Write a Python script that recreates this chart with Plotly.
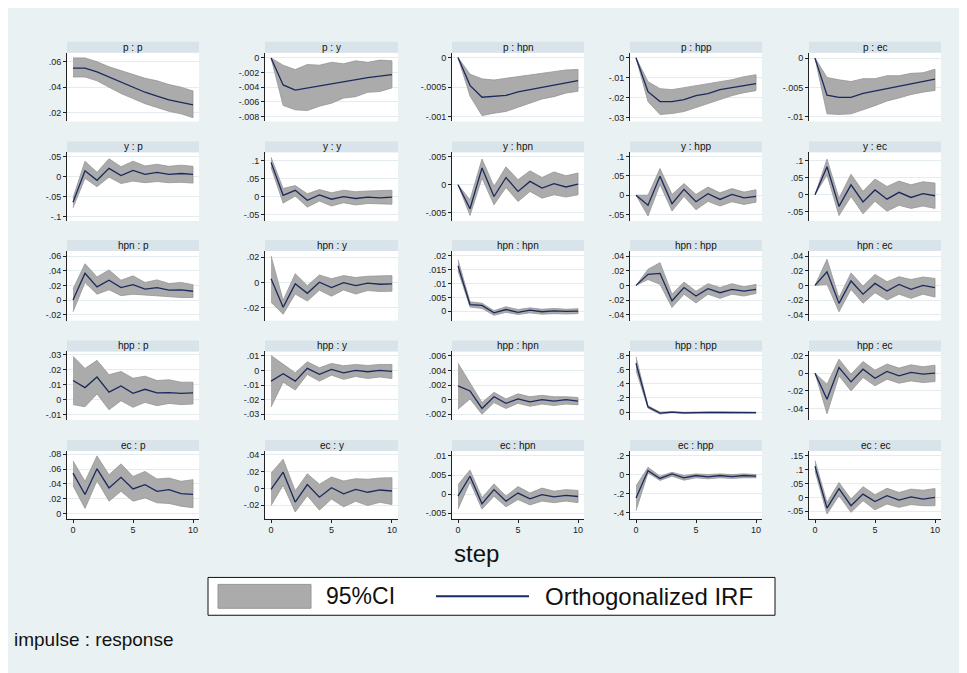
import plotly.graph_objects as go

# page body margin is 8px; figure coordinates are offset accordingly
OFF = 8
W, H = 959, 665
steps = list(range(11))
names = ["p", "y", "hpn", "hpp", "ec"]

# ---- data: impulse_response IRF, lower / upper 95% CI ----
p_p_irf = [0.055, 0.055, 0.052, 0.048, 0.044, 0.040, 0.036, 0.033, 0.030, 0.028, 0.026]
p_p_lo = [0.048, 0.048, 0.045, 0.040, 0.035, 0.031, 0.027, 0.024, 0.021, 0.019, 0.016]
p_p_hi = [0.063, 0.063, 0.060, 0.056, 0.053, 0.050, 0.047, 0.045, 0.042, 0.040, 0.037]
p_p_ticks = [0.02, 0.04, 0.06]

p_y_irf = [0, -0.0037, -0.0044, -0.0041, -0.0038, -0.0035, -0.0032, -0.0029, -0.0027, -0.0025, -0.0023]
p_y_hi = [0, -0.001, -0.0016, -0.0009, -0.001, -0.0006, -0.0008, -0.0004, -0.0006, -0.0003, -0.0004]
p_y_lo = [0, -0.0065, -0.0071, -0.0072, -0.0066, -0.0062, -0.0055, -0.0053, -0.0047, -0.0046, -0.0041]
p_y_ticks = [-0.008, -0.006, -0.004, -0.002, 0]

p_hpn_irf = [0, -0.00047, -0.00067, -0.00066, -0.00064, -0.00058, -0.00054, -0.0005, -0.00046, -0.00042, -0.00039]
p_hpn_hi = [0, -0.00028, -0.00036, -0.00038, -0.00035, -0.00032, -0.00029, -0.00026, -0.00023, -0.00021, -0.0002]
p_hpn_lo = [0, -0.00065, -0.00098, -0.00094, -0.00091, -0.00083, -0.00077, -0.0007, -0.00066, -0.0006, -0.00057]
p_hpn_ticks = [-0.001, -0.0005, 0]

p_hpp_irf = [0, -0.017, -0.022, -0.022, -0.021, -0.019, -0.018, -0.016, -0.015, -0.014, -0.013]
p_hpp_hi = [0, -0.012, -0.0155, -0.016, -0.015, -0.014, -0.013, -0.012, -0.011, -0.0095, -0.0085]
p_hpp_lo = [0, -0.022, -0.0285, -0.028, -0.027, -0.025, -0.023, -0.021, -0.019, -0.0175, -0.0165]
p_hpp_ticks = [-0.03, -0.02, -0.01, 0]

p_ec_irf = [0, -0.0063, -0.0067, -0.0067, -0.006, -0.0056, -0.0051, -0.0047, -0.0043, -0.004, -0.0036]
p_ec_hi = [0, -0.0033, -0.0037, -0.004, -0.0035, -0.0035, -0.003, -0.003, -0.0026, -0.0025, -0.0019]
p_ec_lo = [0, -0.0095, -0.0096, -0.0095, -0.0088, -0.0081, -0.0073, -0.0068, -0.0062, -0.0058, -0.0055]
p_ec_ticks = [-0.01, -0.005, 0]

y_p_irf = [-0.064, 0.015, -0.009, 0.021, 0.003, 0.016, 0.006, 0.011, 0.006, 0.008, 0.006]
y_p_hi = [-0.053, 0.039, 0.011, 0.045, 0.025, 0.039, 0.027, 0.031, 0.026, 0.029, 0.026]
y_p_lo = [-0.078, -0.004, -0.025, -0.001, -0.017, -0.011, -0.015, -0.012, -0.015, -0.014, -0.016]
y_p_ticks = [-0.1, -0.05, 0, 0.05]

y_y_irf = [0.096, 0.004, 0.018, -0.010, 0.005, -0.007, 0, -0.005, -0.001, -0.003, -0.001]
y_y_hi = [0.110, 0.023, 0.031, 0.008, 0.020, 0.011, 0.018, 0.014, 0.016, 0.016, 0.018]
y_y_lo = [0.082, -0.018, 0.002, -0.029, -0.012, -0.026, -0.017, -0.023, -0.019, -0.021, -0.021]
y_y_ticks = [-0.05, 0, 0.05, 0.1]

y_hpn_irf = [0, -0.0043, 0.003, -0.0021, 0.0013, -0.0012, 0.0006, -0.0006, 0.0002, -0.0004, 0.0001]
y_hpn_hi = [0, -0.0027, 0.0046, -0.0003, 0.0032, 0.0009, 0.0025, 0.0013, 0.0023, 0.0016, 0.0021]
y_hpn_lo = [0, -0.0055, 0.0012, -0.0036, -0.0005, -0.003, -0.0012, -0.0024, -0.0018, -0.0022, -0.0018]
y_hpn_ticks = [-0.005, 0, 0.005]

y_hpp_irf = [0, -0.026, 0.049, -0.022, 0.015, -0.017, 0.004, -0.011, 0.002, -0.007, -0.003]
y_hpp_hi = [0, 0, 0.069, 0.002, 0.030, 0.002, 0.021, 0.006, 0.017, 0.008, 0.014]
y_hpp_lo = [0, -0.054, 0.028, -0.041, -0.003, -0.038, -0.016, -0.028, -0.017, -0.024, -0.018]
y_hpp_ticks = [-0.05, 0, 0.05, 0.1]

y_ec_irf = [0, 0.082, -0.034, 0.029, -0.021, 0.014, -0.013, 0.007, -0.008, 0.003, -0.003]
y_ec_hi = [0, 0.104, -0.010, 0.060, 0.010, 0.046, 0.024, 0.040, 0.029, 0.038, 0.034]
y_ec_lo = [0, 0.058, -0.061, -0.005, -0.056, -0.019, -0.048, -0.031, -0.040, -0.033, -0.040]
y_ec_ticks = [-0.05, 0, 0.05, 0.1]

hpn_p_irf = [0, 0.0365, 0.018, 0.027, 0.017, 0.021, 0.015, 0.017, 0.0135, 0.014, 0.012]
hpn_p_hi = [0.015, 0.0495, 0.0315, 0.041, 0.027, 0.033, 0.024, 0.0275, 0.0225, 0.024, 0.021]
hpn_p_lo = [-0.016, 0.024, 0.008, 0.014, 0.006, 0.008, 0.006, 0.006, 0.0045, 0.0035, 0.0035]
hpn_p_ticks = [-0.02, 0, 0.02, 0.04, 0.06]

hpn_y_irf = [0.003, -0.0195, -0.001, -0.0085, 0.0003, -0.004, 0, -0.0024, -0.0005, -0.0013, -0.001]
hpn_y_hi = [0.021, -0.014, 0.007, -0.0024, 0.006, 0.003, 0.0055, 0.004, 0.005, 0.005, 0.0055]
hpn_y_lo = [-0.0155, -0.025, -0.009, -0.0146, -0.006, -0.0107, -0.0058, -0.009, -0.0063, -0.007, -0.0068]
hpn_y_ticks = [-0.02, 0, 0.02]

hpn_hpn_irf = [0.0164, 0.0024, 0.0021, -0.0006, 0.0006, -0.0004, 0.0004, -0.0002, 0.0001, -0.0001, 0]
hpn_hpn_hi = [0.0186, 0.0034, 0.0029, 0.0002, 0.0016, 0.0006, 0.0012, 0.0007, 0.001, 0.0007, 0.0009]
hpn_hpn_lo = [0.0146, 0.0015, 0.001, -0.0015, -0.0004, -0.0012, -0.0006, -0.0011, -0.0009, -0.001, -0.0009]
hpn_hpn_ticks = [0, 0.005, 0.01, 0.015, 0.02]

hpn_hpp_irf = [0, 0.015, 0.0164, -0.021, -0.003, -0.0145, -0.0045, -0.01, -0.0055, -0.0077, -0.0055]
hpn_hpp_hi = [0, 0.022, 0.031, -0.012, 0.0045, -0.008, 0.0023, -0.003, 0.0023, -0.002, 0.0014]
hpn_hpp_lo = [0, 0.008, 0.0014, -0.030, -0.012, -0.024, -0.012, -0.0177, -0.012, -0.0145, -0.011]
hpn_hpp_ticks = [-0.04, -0.02, 0, 0.02, 0.04]

hpn_ec_irf = [0, 0.0186, -0.0245, 0.006, -0.012, 0.0027, -0.0077, 0.0014, -0.0055, 0, -0.003]
hpn_ec_hi = [0, 0.0355, -0.0168, 0.017, -0.001, 0.015, 0.005, 0.0118, 0.008, 0.0114, 0.0095]
hpn_ec_lo = [0, 0.0014, -0.036, -0.0055, -0.0245, -0.01, -0.02, -0.012, -0.0177, -0.012, -0.016]
hpn_ec_ticks = [-0.04, -0.02, 0, 0.02, 0.04]

hpp_p_irf = [0.0127, 0.008, 0.015, 0.005, 0.0091, 0.0042, 0.0069, 0.0045, 0.0047, 0.0042, 0.0045]
hpp_p_hi = [0.0288, 0.0207, 0.0261, 0.0165, 0.0187, 0.0142, 0.0156, 0.0127, 0.0132, 0.0116, 0.0116]
hpp_p_lo = [-0.0033, -0.0047, 0.0038, -0.0067, -0.0007, -0.0051, -0.0018, -0.004, -0.0025, -0.0033, -0.0029]
hpp_p_ticks = [-0.01, 0, 0.01, 0.02, 0.03]

hpp_y_irf = [-0.0073, -0.0023, -0.0073, 0.0014, -0.0027, 0.0007, -0.0016, 0, -0.0009, 0, -0.0007]
hpp_y_hi = [0.0102, 0.0041, -0.0016, 0.0059, 0.0018, 0.0048, 0.0032, 0.0041, 0.0034, 0.0041, 0.0041]
hpp_y_lo = [-0.025, -0.008, -0.0134, -0.0027, -0.0073, -0.0032, -0.0061, -0.0041, -0.0055, -0.0045, -0.0055]
hpp_y_ticks = [-0.03, -0.02, -0.01, 0, 0.01]

hpp_hpn_irf = [0.0019, 0.0012, -0.0012, 0.0004, -0.0005, 0.0001, -0.0003, 0, -0.0002, 0, -0.0002]
hpp_hpn_hi = [0.005, 0.0023, -0.0004, 0.001, 0.0001, 0.0008, 0.0004, 0.0006, 0.0004, 0.0004, 0.0003]
hpp_hpn_lo = [-0.0013, 0.0001, -0.002, -0.0004, -0.0012, -0.0005, -0.0009, -0.0006, -0.0008, -0.0006, -0.0007]
hpp_hpn_ticks = [-0.002, 0, 0.002, 0.004, 0.006]

hpp_hpp_irf = [0.69, 0.075, -0.014, 0, -0.01, -0.003, -0.005, -0.005, -0.005, -0.006, -0.007]
hpp_hpp_hi = [0.78, 0.09, 0, 0.008, 0, 0.006, 0.003, 0.003, 0.002, 0.001, 0]
hpp_hpp_lo = [0.59, 0.055, -0.028, -0.008, -0.02, -0.012, -0.013, -0.013, -0.012, -0.013, -0.014]
hpp_hpp_ticks = [0, 0.2, 0.4, 0.6, 0.8]

hpp_ec_irf = [0, -0.0294, 0.0064, -0.0098, 0.0045, -0.0057, 0.0019, -0.003, 0.0008, -0.0011, 0]
hpp_ec_hi = [0, -0.0125, 0.0158, -0.0011, 0.0132, 0.0034, 0.0102, 0.0057, 0.0094, 0.0072, 0.009]
hpp_ec_lo = [0, -0.0457, -0.003, -0.02, -0.0049, -0.0143, -0.0068, -0.0113, -0.0087, -0.0106, -0.0094]
hpp_ec_ticks = [-0.04, -0.02, 0, 0.02]

ec_p_irf = [0.0547, 0.0258, 0.0604, 0.0347, 0.0489, 0.0333, 0.0391, 0.0302, 0.0324, 0.027, 0.026]
ec_p_hi = [0.0711, 0.0436, 0.0778, 0.0524, 0.0671, 0.0502, 0.0569, 0.0467, 0.048, 0.0436, 0.0458]
ec_p_lo = [0.0378, 0.0071, 0.0444, 0.0169, 0.0302, 0.0169, 0.0213, 0.0147, 0.0138, 0.0102, 0.008]
ec_p_ticks = [0, 0.02, 0.04, 0.06, 0.08]

ec_y_irf = [-0.0011, 0.0192, -0.0162, 0.0046, -0.0104, 0.0008, -0.0065, -0.0011, -0.0046, -0.0019, -0.0031]
ec_y_hi = [0.0181, 0.0346, -0.0031, 0.0173, 0.005, 0.0135, 0.0088, 0.0115, 0.0108, 0.0123, 0.0127]
ec_y_lo = [-0.0204, 0.0038, -0.0281, -0.0088, -0.0258, -0.0127, -0.0219, -0.0154, -0.0204, -0.0165, -0.0192]
ec_y_ticks = [-0.02, 0, 0.02, 0.04]

ec_hpn_irf = [-0.0005, 0.0047, -0.0025, 0.0012, -0.0018, 0.0003, -0.0012, -0.0001, -0.0007, -0.0003, -0.0006]
ec_hpn_hi = [0.0025, 0.0063, -0.0009, 0.0027, -0.0005, 0.002, 0.0003, 0.0016, 0.0008, 0.0012, 0.001]
ec_hpn_lo = [-0.0039, 0.0032, -0.0039, -0.0005, -0.0033, -0.0014, -0.0028, -0.0018, -0.0022, -0.0018, -0.0022]
ec_hpn_ticks = [-0.005, 0, 0.005, 0.01]

ec_hpp_irf = [-0.248, 0.041, -0.041, 0.007, -0.034, -0.01, -0.024, -0.01, -0.021, -0.01, -0.017]
ec_hpp_hi = [-0.121, 0.076, -0.017, 0.024, -0.01, 0.007, 0, 0.007, 0, 0.007, 0]
ec_hpp_lo = [-0.379, 0.017, -0.062, -0.017, -0.059, -0.034, -0.045, -0.034, -0.041, -0.034, -0.034]
ec_hpp_ticks = [-0.4, -0.2, 0, 0.2]

ec_ec_irf = [0.113, -0.039, 0.032, -0.03, 0.012, -0.015, 0.006, -0.01, 0.002, -0.006, 0]
ec_ec_hi = [0.133, -0.018, 0.054, -0.006, 0.039, 0.01, 0.033, 0.018, 0.03, 0.026, 0.032]
ec_ec_lo = [0.095, -0.06, 0.006, -0.054, -0.012, -0.045, -0.024, -0.036, -0.026, -0.03, -0.03]
ec_ec_ticks = [-0.05, 0, 0.05, 0.1, 0.15]

x_ticks = [0, 5, 10]

# ---- layout settings (screen pixels) ----
y_ranges = {
    ("p", "p"): [0.013, 0.067], ("p", "y"): [-0.0087, 0.0007], ("p", "hpn"): [-0.00108, 0.00008],
    ("p", "hpp"): [-0.032, 0.0025], ("p", "ec"): [-0.0108, 0.0009],
    ("y", "p"): [-0.111, 0.061], ("y", "y"): [-0.068, 0.124], ("y", "hpn"): [-0.0065, 0.0058],
    ("y", "hpp"): [-0.067, 0.111], ("y", "ec"): [-0.077, 0.124],
    ("hpn", "p"): [-0.028, 0.067], ("hpn", "y"): [-0.030, 0.025], ("hpn", "hpn"): [-0.0034, 0.0218],
    ("hpn", "hpp"): [-0.048, 0.047], ("hpn", "ec"): [-0.048, 0.047],
    ("hpp", "p"): [-0.0136, 0.032], ("hpp", "y"): [-0.034, 0.013], ("hpp", "hpn"): [-0.0028, 0.0066],
    ("hpp", "hpp"): [-0.113, 0.857], ("hpp", "ec"): [-0.053, 0.0245],
    ("ec", "p"): [-0.0067, 0.0844], ("ec", "y"): [-0.036, 0.0444], ("ec", "hpn"): [-0.0064, 0.0113],
    ("ec", "hpp"): [-0.465, 0.248], ("ec", "ec"): [-0.077, 0.168],
}
col_px = [(67, 199), (265, 398), (452, 584), (630, 762), (809, 941)]
row_px = [(51, 120), (151, 220), (250, 320), (351, 420), (451, 519)]
STRIP_H = 11

BG = "#eaf1f3"
STRIP = "#d8e4ea"
GRID = "#e4ecef"
BAND = "#ababab"
BAND_EDGE = "#969696"
NAVY = "#1b2a5e"
FONT = "Liberation Sans, Arial, sans-serif"


def px_x(p):
    return (p - OFF) / W


def px_y(p):
    return 1 - (p - OFF) / H


def stata_fmt(v):
    s = f"{v:g}"
    if s.startswith("0."):
        s = s[1:]
    elif s.startswith("-0."):
        s = "-" + s[2:]
    return s


fig = go.Figure()
shapes = []
annotations = []
layout_axes = {}

for i, imp in enumerate(names):
    for j, resp in enumerate(names):
        k = i * 5 + j + 1
        key = f"{imp}_{resp}"
        irf = globals()[key + "_irf"]
        lo = globals()[key + "_lo"]
        hi = globals()[key + "_hi"]
        ticks = globals()[key + "_ticks"]
        xa = "x" if k == 1 else f"x{k}"
        ya = "y" if k == 1 else f"y{k}"
        fig.add_trace(go.Scatter(
            x=steps + steps[::-1], y=hi + lo[::-1], xaxis=xa, yaxis=ya,
            fill="toself", fillcolor=BAND, mode="lines",
            line=dict(color=BAND_EDGE, width=0.8), hoverinfo="skip", showlegend=False))
        fig.add_trace(go.Scatter(
            x=steps, y=irf, xaxis=xa, yaxis=ya, mode="lines",
            line=dict(color=NAVY, width=1.3), showlegend=False))

        x0, x1 = col_px[j]
        y0, y1 = row_px[i]
        bottom = (i == 4)
        layout_axes["xaxis" if k == 1 else f"xaxis{k}"] = dict(
            domain=[px_x(x0), px_x(x1)], range=[-0.5, 10.5], anchor=ya,
            showgrid=False, zeroline=False,
            showline=bottom, linecolor="#222", linewidth=1,
            ticks="outside" if bottom else "", ticklen=3, tickcolor="#222",
            tickvals=x_ticks, showticklabels=bottom,
            tickfont=dict(size=9, color="#222", family=FONT))
        layout_axes["yaxis" if k == 1 else f"yaxis{k}"] = dict(
            domain=[px_y(y1), px_y(y0)], range=y_ranges[(imp, resp)], anchor=xa,
            tickvals=ticks, ticktext=[stata_fmt(t) for t in ticks],
            showgrid=True, gridcolor=GRID, gridwidth=1, zeroline=False,
            showline=True, linecolor="#222", linewidth=1,
            ticks="outside", ticklen=3, tickcolor="#222",
            tickfont=dict(size=9, color="#222", family=FONT))
        # strip title
        shapes.append(dict(type="rect", xref="paper", yref="paper",
                           x0=px_x(x0), x1=px_x(x1), y0=px_y(y0), y1=px_y(y0 - STRIP_H),
                           fillcolor=STRIP, line=dict(width=0), layer="below"))
        annotations.append(dict(text=f"{imp} : {resp}", xref="paper", yref="paper",
                                x=px_x((x0 + x1) / 2), y=px_y(y0 - STRIP_H / 2),
                                showarrow=False, xanchor="center", yanchor="middle",
                                font=dict(size=10, color="#111", family=FONT)))

# x title
annotations.append(dict(text="step", xref="paper", yref="paper", x=px_x(476), y=px_y(554),
                        showarrow=False, xanchor="center", yanchor="middle",
                        font=dict(size=24, color="#111", family=FONT)))
# legend box
shapes.append(dict(type="rect", xref="paper", yref="paper", x0=px_x(208), x1=px_x(775),
                   y0=px_y(616), y1=px_y(578), fillcolor="white", line=dict(color="#111", width=1)))
shapes.append(dict(type="rect", xref="paper", yref="paper", x0=px_x(218), x1=px_x(311),
                   y0=px_y(609), y1=px_y(585), fillcolor=BAND, line=dict(color=BAND_EDGE, width=1)))
annotations.append(dict(text="95%CI", xref="paper", yref="paper", x=px_x(324), y=px_y(597),
                        showarrow=False, xanchor="left", yanchor="middle",
                        font=dict(size=23, color="#111", family=FONT)))
shapes.append(dict(type="line", xref="paper", yref="paper", x0=px_x(436), x1=px_x(529),
                   y0=px_y(597), y1=px_y(597), line=dict(color=NAVY, width=2)))
annotations.append(dict(text="Orthogonalized IRF", xref="paper", yref="paper", x=px_x(543), y=px_y(597),
                        showarrow=False, xanchor="left", yanchor="middle",
                        font=dict(size=24, color="#111", family=FONT)))
annotations.append(dict(text="impulse : response", xref="paper", yref="paper", x=px_x(12), y=px_y(640),
                        showarrow=False, xanchor="left", yanchor="middle",
                        font=dict(size=19, color="#111", family=FONT)))

fig.update_layout(
    width=W, height=H, margin=dict(l=0, r=0, t=0, b=0),
    paper_bgcolor=BG, plot_bgcolor="white", showlegend=False,
    shapes=shapes, annotations=annotations, font=dict(family=FONT),
    **layout_axes)

fig.write_html("out.html")
